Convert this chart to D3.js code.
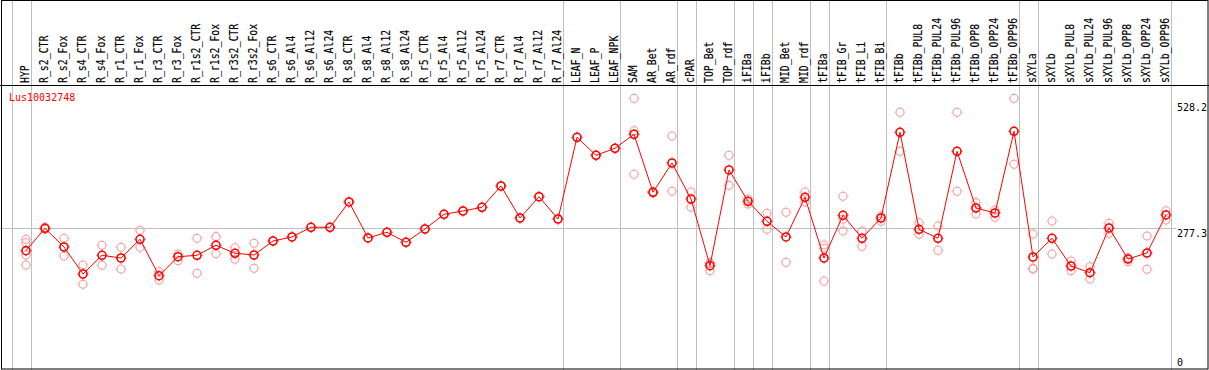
<!DOCTYPE html>
<html>
<head>
<meta charset="utf-8">
<script src="https://cdn.jsdelivr.net/npm/d3@7"></script>
<style>
  html, body { margin: 0; padding: 0; background: #fff; }
  svg { display: block; }
  text { font-family: "DejaVu Sans Mono", monospace; font-size: 10px; }
  text.cat { font-size: 12px; }
</style>
</head>
<body>
<div id="wrapper"></div>
<script>
// categories along the x axis
const categories = ["HYP", "R_s2_CTR", "R_s2_Fox", "R_s4_CTR", "R_s4_Fox", "R_r1_CTR", "R_r1_Fox",
  "R_r3_CTR", "R_r3_Fox", "R_r1s2_CTR", "R_r1s2_Fox", "R_r3s2_CTR", "R_r3s2_Fox",
  "R_s6_CTR", "R_s6_Al4", "R_s6_Al12", "R_s6_Al24", "R_s8_CTR", "R_s8_Al4", "R_s8_Al12", "R_s8_Al24",
  "R_r5_CTR", "R_r5_Al4", "R_r5_Al12", "R_r5_Al24", "R_r7_CTR", "R_r7_Al4", "R_r7_Al12", "R_r7_Al24",
  "LEAF_N", "LEAF_P", "LEAF_NPK", "SAM", "AR_Bet", "AR_rdf", "cPAR", "TOP_Bet", "TOP_rdf",
  "iFIBa", "iFIBb", "MID_Bet", "MID_rdf", "tFIBa", "tFIB_Gr", "tFIB_Li", "tFIB_Bi",
  "tFIBb", "tFIBb_PUL8", "tFIBb_PUL24", "tFIBb_PUL96", "tFIBb_OPP8", "tFIBb_OPP24", "tFIBb_OPP96",
  "sXYLa", "sXYLb", "sXYLb_PUL8", "sXYLb_PUL24", "sXYLb_PUL96", "sXYLb_OPP8", "sXYLb_OPP24", "sXYLb_OPP96"];

// last category of each sample group (gray separators)
const groupEnds = ["HYP", "R_r7_Al24", "LEAF_NPK", "AR_rdf", "cPAR", "TOP_rdf", "iFIBa", "iFIBb",
  "MID_rdf", "tFIBa", "tFIB_Bi", "tFIBb_OPP96", "sXYLa", "sXYLb_OPP96"];

// mean expression per category
const means = [232.2, 276.8, 239.5, 185.8, 223.0, 217.6, 254.9, 182.4, 220.2, 223.0, 242.9, 227.0, 223.6,
  251.5, 259.5, 278.8, 278.8, 329.2, 257.5, 268.8, 248.9,
  275.4, 304.7, 311.2, 318.6, 361.0, 297.3, 339.7, 295.3,
  458.0, 422.1, 436.1, 464.0, 348.5, 406.8, 335.1, 202.3, 392.9,
  330.5, 290.7, 259.5, 338.5, 217.6, 302.7, 256.9, 297.3,
  467.9, 274.8, 256.9, 430.1, 317.2, 307.2, 469.9,
  219.6, 256.9, 201.7, 188.4, 277.4, 215.6, 227.6, 303.3];

// individual replicates per category
const replicates = [
  [254.9, 248.1, 223.6, 203.7], [279.0, 275.0], [256.9, 221.6], [203.7, 165.3], [242.9, 203.1],
  [238.9, 195.7], [272.8, 238.9], [190.4, 173.8], [225.6, 212.3], [256.9, 187.2], [260.1, 226.2],
  [238.1, 215.1], [246.9, 197.1],
  [251.5], [259.5], [278.8], [278.8], [329.2], [257.5], [268.8], [248.9],
  [275.4], [304.7], [311.2], [318.6], [361.0], [297.3], [339.7], [295.3],
  [458.0], [422.1], [436.1],
  [535.6, 471.1, 384.3], [350.0, 347.0], [460.6, 350.5], [349.1, 318.6], [208.3, 206.5, 192.0],
  [422.1, 362.4], [335.1, 325.2], [306.7, 274.8], [308.6, 209.1], [349.1, 329.2],
  [243.5, 237.0, 171.8], [340.5, 294.7, 271.4], [271.4, 240.9], [301.3, 290.7],
  [507.8, 430.1], [287.9, 264.8], [281.4, 233.0], [507.8, 350.5], [327.8, 305.3], [313.2, 298.7],
  [535.6, 404.2],
  [265.4, 197.1, 195.7], [291.3, 225.6], [211.7, 192.4], [200.3, 175.8], [286.7, 266.8],
  [218.2, 210.3], [261.5, 195.1], [311.8, 293.3]];

const yTicks = [0, 277.3, 528.2];
const gridValues = [277.3];
const title = "Lus10032748";

const width = 1209, height = 370;
const headerY = 85;

var svg = d3.select("#wrapper").append("svg")
  .attr("width", width)
  .attr("height", height);

var x = d3.scalePoint()
  .domain(categories)
  .range([26, 1166]);

var step = x.step();

var y = d3.scaleLinear()
  .domain([0, 562.1])
  .range([367.3, headerY]);

// horizontal grid line(s)
svg.selectAll("line.grid")
  .data(gridValues)
  .enter().append("line")
  .attr("class", "grid")
  .attr("x1", 0).attr("x2", 1176)
  .attr("y1", function (d) { return Math.round(y(d)) + 0.5; })
  .attr("y2", function (d) { return Math.round(y(d)) + 0.5; })
  .attr("stroke", "#c0c0c0");

// group separators, full height
var sepX = [x(categories[0]) - step + 4.5].concat(groupEnds.map(function (c) { return x(c) + 4.5; }));
svg.selectAll("line.sep")
  .data(sepX)
  .enter().append("line")
  .attr("class", "sep")
  .attr("x1", function (d) { return Math.round(d) + 0.5; })
  .attr("x2", function (d) { return Math.round(d) + 0.5; })
  .attr("y1", 0).attr("y2", height)
  .attr("stroke", "#c0c0c0");

// header labels (narrow, tall glyphs like the original bitmap font)
svg.selectAll("text.cat")
  .data(categories)
  .enter().append("text")
  .attr("class", "cat")
  .attr("transform", function (d) { return "translate(" + (x(d) + 3.2) + "," + (headerY - 2) + ") rotate(-90) scale(0.82,1)"; })
  .text(function (d) { return d; })
  .attr("fill", "#000")
  .attr("stroke", "#000")
  .attr("stroke-width", 0.15);

// borders
svg.append("line")
  .attr("x1", 0).attr("x2", width)
  .attr("y1", headerY + 0.5).attr("y2", headerY + 0.5)
  .attr("stroke", "#000");
svg.append("rect")
  .attr("x", 1.5).attr("y", 0.5)
  .attr("width", width - 2.5).attr("height", height - 1.5)
  .attr("fill", "none")
  .attr("stroke", "#000");

// title
svg.append("text")
  .attr("x", 9).attr("y", 101)
  .attr("fill", "#ff0000")
  .text(title);

// y labels
svg.selectAll("text.ytick")
  .data(yTicks)
  .enter().append("text")
  .attr("class", "ytick")
  .attr("x", 1177)
  .attr("y", function (d) { return Math.min(y(d) + 9, 366); })
  .attr("fill", "#000")
  .text(function (d) { return d; });

function marker(sel, color, sw) {
  sel.append("circle")
    .attr("r", 4)
    .attr("fill", "none")
    .attr("stroke", color)
    .attr("stroke-width", sw);
  sel.append("path")
    .attr("d", "M0,-5.5V-4.5M0,4.5V5.5M-5.5,0H-4.5M4.5,0H5.5")
    .attr("stroke", color)
    .attr("stroke-width", 1);
}

// replicate points
var reps = [];
categories.forEach(function (c, i) {
  replicates[i].forEach(function (v) { reps.push({ cat: c, value: v }); });
});

svg.selectAll("g.rep")
  .data(reps)
  .enter().append("g")
  .attr("class", "rep")
  .attr("transform", function (d) { return "translate(" + x(d.cat) + "," + y(d.value) + ")"; })
  .call(marker, "#f0a0a0", 1.1);

// mean line
var line = d3.line()
  .x(function (d, i) { return x(categories[i]); })
  .y(function (d) { return y(d); });

svg.append("path")
  .datum(means)
  .attr("d", line)
  .attr("fill", "none")
  .attr("stroke", "#ff0000")
  .attr("stroke-width", 1);

svg.selectAll("g.mean")
  .data(means)
  .enter().append("g")
  .attr("class", "mean")
  .attr("transform", function (d, i) { return "translate(" + x(categories[i]) + "," + y(d) + ")"; })
  .call(marker, "#ff0000", 1.6);
</script>
</body>
</html>
